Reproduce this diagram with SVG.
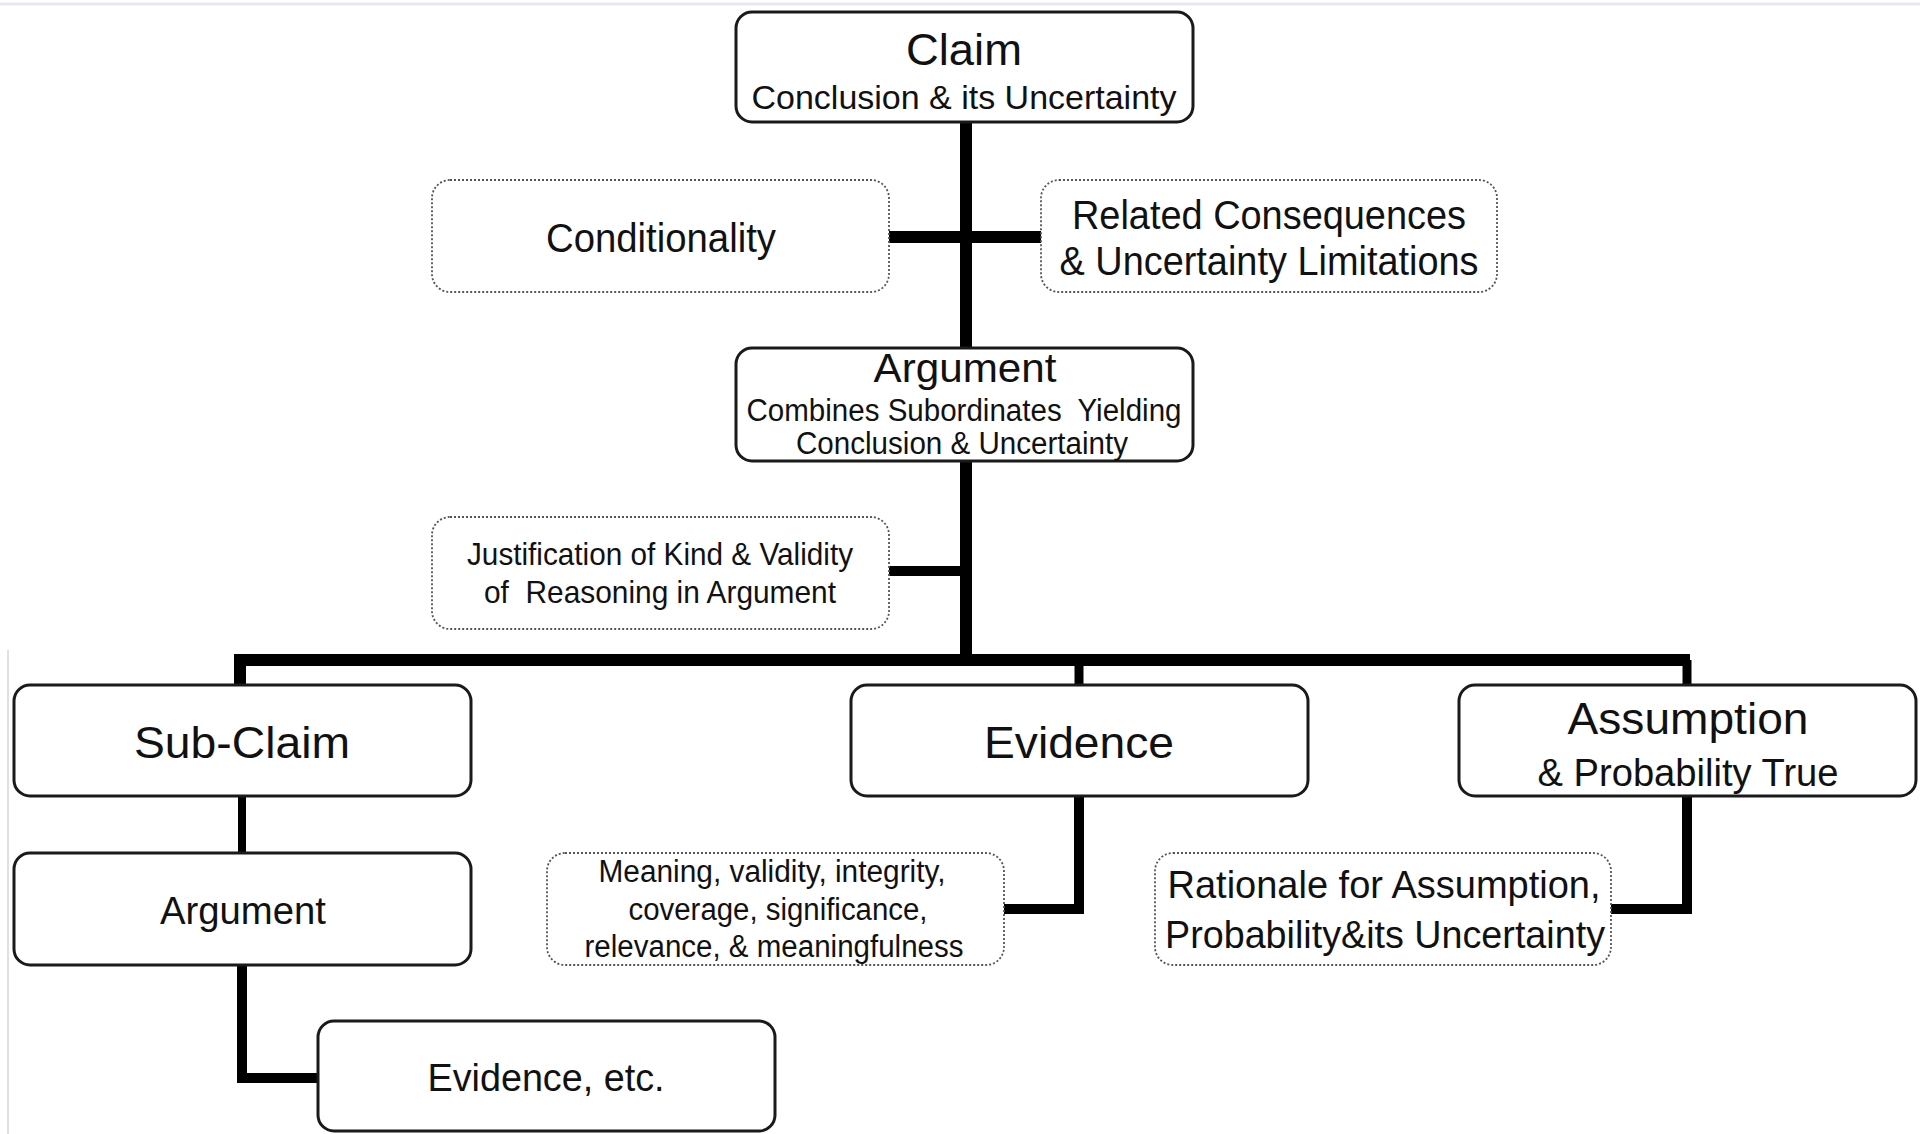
<svg xmlns="http://www.w3.org/2000/svg" width="1927" height="1134" viewBox="0 0 1927 1134">
<style>
.box{fill:#fff;stroke:#1a1a1a;stroke-width:3}
.dbox{fill:#fff;stroke:#555;stroke-width:1.8;stroke-dasharray:2 2}
.t{font-family:"Liberation Sans",Arial,sans-serif;fill:#111;text-anchor:middle;white-space:pre}
.c{fill:none;stroke:#000;stroke-linejoin:miter;stroke-linecap:butt}
</style>
<rect width="1927" height="1134" fill="#fff"/>
<line x1="0" y1="4" x2="1920" y2="4" stroke="#e6e9ef" stroke-width="3"/>
<line x1="8" y1="650" x2="8" y2="1134" stroke="#dde0ea" stroke-width="2"/>
<g id="connectors">
<path class="c" stroke-width="12" d="M966 123V348"/>
<path class="c" stroke-width="12" d="M889 237H1041"/>
<path class="c" stroke-width="12" d="M966 461V660"/>
<path class="c" stroke-width="10" d="M889 571H966"/>
<path class="c" stroke-width="12" d="M240 685V660H1690"/>
<path class="c" stroke-width="9" d="M1079 660V685"/>
<path class="c" stroke-width="9" d="M1687 660V685"/>
<path class="c" stroke-width="8" d="M242 796V853"/>
<path class="c" stroke-width="10" d="M242 965V1078H318"/>
<path class="c" stroke-width="10" d="M1079 796V909H1004"/>
<path class="c" stroke-width="10" d="M1687 796V909H1611"/>
</g>
<g id="claim">
<rect class="box" x="736" y="12" width="457" height="110" rx="16"/>
<text class="t" x="964" y="65" font-size="44" textLength="116" lengthAdjust="spacingAndGlyphs">Claim</text>
<text class="t" x="964" y="109" font-size="34" textLength="425" lengthAdjust="spacingAndGlyphs">Conclusion &amp; its Uncertainty</text>
</g>
<g id="conditionality">
<rect class="dbox" x="432" y="180" width="457" height="112" rx="18"/>
<text class="t" x="661" y="252" font-size="41" textLength="230" lengthAdjust="spacingAndGlyphs">Conditionality</text>
</g>
<g id="related">
<rect class="dbox" x="1041" y="180" width="456" height="112" rx="18"/>
<text class="t" x="1269" y="229" font-size="41" textLength="394" lengthAdjust="spacingAndGlyphs">Related Consequences</text>
<text class="t" x="1269" y="275" font-size="41" textLength="419" lengthAdjust="spacingAndGlyphs">&amp; Uncertainty Limitations</text>
</g>
<g id="argument">
<rect class="box" x="736" y="348" width="457" height="113" rx="16"/>
<text class="t" x="965" y="382" font-size="41" textLength="183" lengthAdjust="spacingAndGlyphs">Argument</text>
<text class="t" x="964" y="421" font-size="31" textLength="435" lengthAdjust="spacingAndGlyphs" xml:space="preserve">Combines Subordinates  Yielding</text>
<text class="t" x="962" y="454" font-size="31" textLength="332" lengthAdjust="spacingAndGlyphs">Conclusion &amp; Uncertainty</text>
</g>
<g id="justification">
<rect class="dbox" x="432" y="517" width="457" height="112" rx="18"/>
<text class="t" x="660" y="565" font-size="32" textLength="386" lengthAdjust="spacingAndGlyphs">Justification of Kind &amp; Validity</text>
<text class="t" x="660" y="603" font-size="32" textLength="352" lengthAdjust="spacingAndGlyphs" xml:space="preserve">of  Reasoning in Argument</text>
</g>
<g id="subclaim">
<rect class="box" x="14" y="685" width="457" height="111" rx="16"/>
<text class="t" x="242" y="758" font-size="44" textLength="216" lengthAdjust="spacingAndGlyphs">Sub-Claim</text>
</g>
<g id="evidence">
<rect class="box" x="851" y="685" width="457" height="111" rx="16"/>
<text class="t" x="1079" y="758" font-size="45" textLength="190" lengthAdjust="spacingAndGlyphs">Evidence</text>
</g>
<g id="assumption">
<rect class="box" x="1459" y="685" width="457" height="111" rx="16"/>
<text class="t" x="1688" y="734" font-size="44" textLength="241" lengthAdjust="spacingAndGlyphs">Assumption</text>
<text class="t" x="1688" y="786" font-size="38" textLength="301" lengthAdjust="spacingAndGlyphs">&amp; Probability True</text>
</g>
<g id="argument2">
<rect class="box" x="14" y="853" width="457" height="112" rx="16"/>
<text class="t" x="243" y="924" font-size="39" textLength="166" lengthAdjust="spacingAndGlyphs">Argument</text>
</g>
<g id="meaning">
<rect class="dbox" x="547" y="853" width="457" height="112" rx="18"/>
<text class="t" x="772" y="882" font-size="31" textLength="347" lengthAdjust="spacingAndGlyphs">Meaning, validity, integrity,</text>
<text class="t" x="778" y="920" font-size="31" textLength="299" lengthAdjust="spacingAndGlyphs">coverage, significance,</text>
<text class="t" x="774" y="957" font-size="31" textLength="379" lengthAdjust="spacingAndGlyphs">relevance, &amp; meaningfulness</text>
</g>
<g id="rationale">
<rect class="dbox" x="1155" y="853" width="456" height="112" rx="18"/>
<text class="t" x="1384" y="898" font-size="39" textLength="433" lengthAdjust="spacingAndGlyphs">Rationale for Assumption,</text>
<text class="t" x="1385" y="948" font-size="39" textLength="440" lengthAdjust="spacingAndGlyphs">Probability&amp;its Uncertainty</text>
</g>
<g id="evidence-etc">
<rect class="box" x="318" y="1021" width="457" height="110" rx="16"/>
<text class="t" x="546" y="1091" font-size="39" textLength="237" lengthAdjust="spacingAndGlyphs">Evidence, etc.</text>
</g>
</svg>
